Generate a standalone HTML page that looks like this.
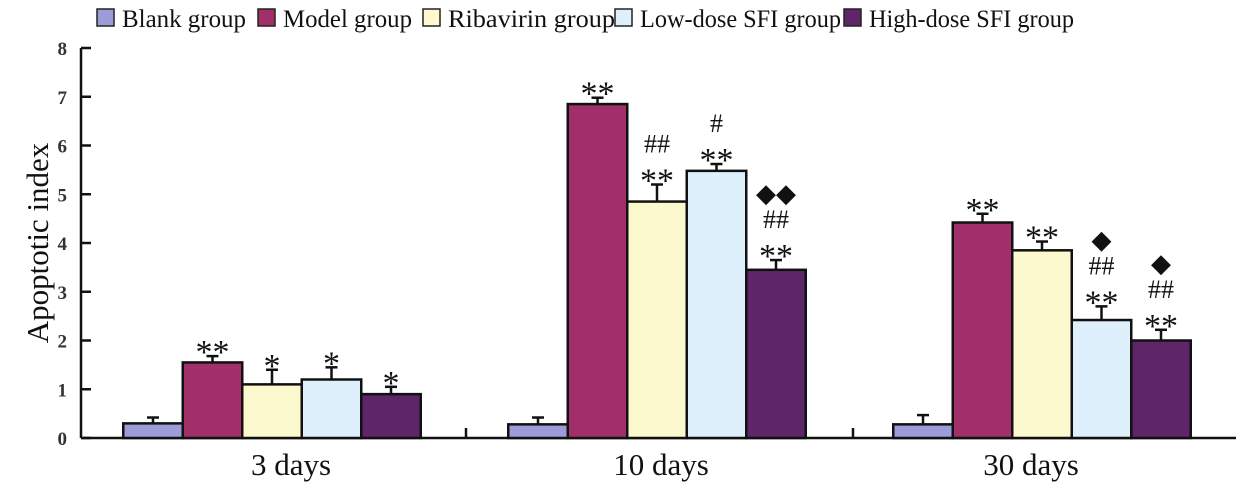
<!DOCTYPE html>
<html><head><meta charset="utf-8"><style>
body{margin:0;background:#fff}
svg{display:block;font-family:"Liberation Serif",serif}
</style></head><body>
<svg id="chart" width="1252" height="484"></svg>
<script>
const categories=["3 days","10 days","30 days"];
const seriesNames=["Blank group","Model group","Ribavirin group","Low-dose SFI group","High-dose SFI group"];
const blank=[0.3,0.28,0.28];
const model=[1.55,6.85,4.42];
const ribavirin=[1.1,4.85,3.85];
const lowDose=[1.2,5.48,2.42];
const highDose=[0.9,3.45,2.0];
const blankErr=[0.12,0.14,0.19];
const modelErr=[0.13,0.13,0.18];
const ribavirinErr=[0.3,0.35,0.18];
const lowDoseErr=[0.25,0.14,0.28];
const highDoseErr=[0.15,0.2,0.22];
const annotations=[
 [[],["**"],["*"],["*"],["*"]],
 [[],["**"],["##","**"],["#","**"],["◆◆","##","**"]],
 [[],["**"],["**"],["◆","##","**"],["◆","##","**"]]
];
const yTicks=[0,1,2,3,4,5,6,7,8];
const colors=["#9c9cd8","#a1306a","#fdf9cf","#def0fb","#5e2568"];
const series=[blank,model,ribavirin,lowDose,highDose];
const errs=[blankErr,modelErr,ribavirinErr,lowDoseErr,highDoseErr];

const NS="http://www.w3.org/2000/svg";
const svg=document.getElementById('chart');
function el(t,a,p){const e=document.createElementNS(NS,t);for(const k in a)e.setAttribute(k,a[k]);(p||svg).appendChild(e);return e;}
const x0=81,x1=1236,y0=438,yTop=48;
const y=v=>y0-(v/8)*(y0-yTop);
const barW=59.5;
const gc=i=>272+385*i;
const labelX=i=>291+370*i;

let a=el('line',{x1:x0,y1:yTop,x2:x0,y2:y0,stroke:'#111','stroke-width':2.5});

a=el('line',{x1:x0,y1:y0,x2:x1,y2:y0,stroke:'#111','stroke-width':2.5});

yTicks.forEach(t=>{
 el('line',{x1:x0,y1:y(t),x2:x0+10,y2:y(t),stroke:'#111','stroke-width':2.5});
 const tx=el('text',{x:x0-14,y:y(t)+7,'text-anchor':'end','font-size':19,'font-weight':'bold',fill:'#333'});
 tx.textContent=t;
 
 
});
[466,853].forEach(px=>el('line',{x1:px,y1:y0,x2:px,y2:y0-10,stroke:'#111','stroke-width':2.5}));
const yt=el('text',{x:48,y:243,'text-anchor':'middle','font-size':31,transform:'rotate(-90 48 243)',fill:'#111'});
yt.textContent='Apoptotic index';


categories.forEach((c,i)=>{
 const cx=gc(i);
 const lt=el('text',{x:labelX(i),y:475,'text-anchor':'middle','font-size':31,fill:'#111'});
 lt.textContent=c;
 
 series.forEach((s,j)=>{
  const bx=cx-2.5*barW+j*barW, v=s[i], e=errs[j][i], mx=bx+barW/2;
  el('line',{x1:mx,y1:y(v),x2:mx,y2:y(v+e),stroke:'#111','stroke-width':2.5});
  el('line',{x1:mx-6,y1:y(v+e),x2:mx+6,y2:y(v+e),stroke:'#111','stroke-width':2.5});
  const r=el('rect',{x:bx,y:y(v),width:barW,height:y0-y(v),fill:colors[j],stroke:'#111','stroke-width':2.5});
  
  
  const ann=annotations[i][j];
  ann.forEach((t,k)=>{
   const star=t.startsWith('*');
   const ty=y(v+e)-6-(ann.length-1-k)*26;
   const at=el('text',{x:mx,y:ty+(star?13:0),'text-anchor':'middle','font-size':star?34:26,fill:'#111'});
   at.textContent=t;
   
   
  });
 });
});

const lx=[97,258,423,615,844];
const lw=[124,129,167,201,205];
seriesNames.forEach((n,j)=>{
 const r=el('rect',{x:lx[j],y:9,width:17,height:17,fill:colors[j],stroke:'#222','stroke-width':1.5});
 
 const t=el('text',{x:lx[j]+25,y:27,'font-size':25,fill:'#111',textLength:lw[j],lengthAdjust:'spacingAndGlyphs'});
 t.textContent=n;
 
});
</script>
</body></html>
